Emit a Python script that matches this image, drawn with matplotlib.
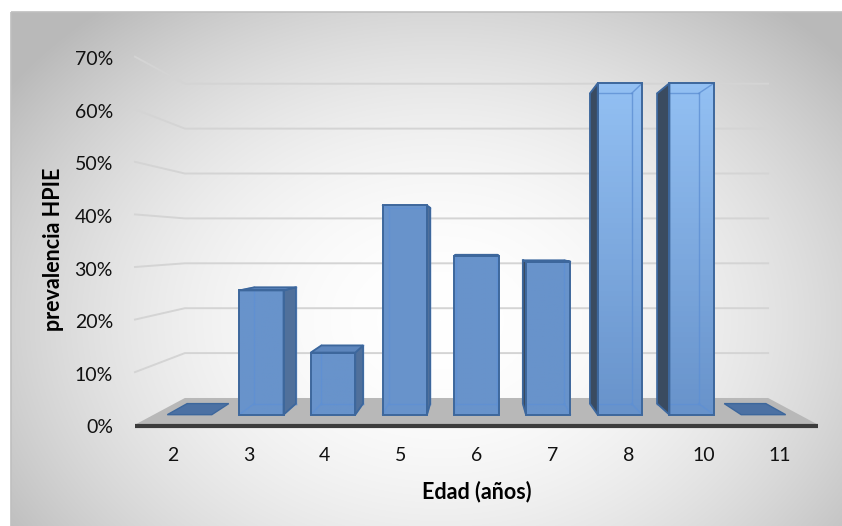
import numpy as np
import matplotlib
matplotlib.use("Agg")
import matplotlib.pyplot as plt
from matplotlib.patches import Polygon, Rectangle

plt.rcParams['font.family'] = ['Lato', 'DejaVu Sans']

# Data
ages = ["2", "3", "4", "5", "6", "7", "8", "10", "11"]
prevalence = [0, 25, 12.5, 42.1, 32, 30.8, 66.7, 66.7, 0]
y_ticks = [0, 10, 20, 30, 40, 50, 60, 70]

# simple one-point perspective to fake the Excel 3D look
VX, VY = 4.0, 34.8
SHRINK = 0.146
T_FRONT, T_BACK = 0.375, 0.79
HALF_W = 0.31


def proj(x, y, t):
    s = 1 - SHRINK * t
    return (VX + s * (x - VX), VY + s * (y - VY))


fig = plt.figure(figsize=(8.42, 5.26), dpi=100)

# background with radial gradient
bg = fig.add_axes([0, 0, 1, 1])
yy, xx = np.mgrid[0:526, 0:842]
r2 = ((xx - 440) / 430.0) ** 2 + ((yy - 320) / 330.0) ** 2
g = np.clip(255 - 46 * r2, 185, 255) / 255.0
g[(xx < 11) | (yy < 12)] = 1.0
bg.imshow(np.dstack([g, g, g]), extent=(0, 842, 526, 0), aspect="auto")
bg.add_patch(Rectangle((11, 11.5), 840, 520, fill=False, ec="#bfbfbf", lw=1.2))
bg.set_xlim(0, 842)
bg.set_ylim(526, 0)
bg.axis("off")

ax = fig.add_axes([135 / 842, (526 - 424.7) / 526, 683 / 842, 368 / 526])
ax.set_xlim(-0.5, 8.5)
ax.set_ylim(0, 70)
ax.axis("off")

n = len(ages)
x_lo, x_hi = -0.5, n - 0.5

# walls: gridlines on left side wall and back wall
for v in y_ticks[1:]:
    p0 = proj(x_lo, v, 0)
    p1 = proj(x_lo, v, 1)
    p2 = proj(x_hi, v, 1)
    ax.plot([p0[0], p1[0], p2[0]], [p0[1], p1[1], p2[1]],
            color="#d4d4d4", lw=1.4, clip_on=False, zorder=1)

# floor
floor = [proj(x_lo, 0, 0), proj(x_hi, 0, 0), proj(x_hi, 0, 1), proj(x_lo, 0, 1)]
ax.add_patch(Polygon(floor, closed=True, fc="#b8b8b8", ec="none",
                     clip_on=False, zorder=2))
ax.plot([x_lo, x_hi], [-0.25, -0.25], color="#3c3c3c", lw=3,
        solid_capstyle="butt", clip_on=False, zorder=2)

EDGE = "#3d679c"
INNER = "#5e90d4"
BASE = np.array([0x68, 0x93, 0xcb]) / 255.0
LIGHT = np.array([0x93, 0xc0, 0xf3]) / 255.0

for i, v in enumerate(prevalence):
    xl, xr = i - HALF_W, i + HALF_W
    if v == 0:
        top = [proj(xl, 0, T_FRONT), proj(xr, 0, T_FRONT),
               proj(xr, 0, T_BACK), proj(xl, 0, T_BACK)]
        ax.add_patch(Polygon(top, closed=True, fc="#4c71a3", ec=EDGE, lw=1,
                             clip_on=False, zorder=3))
        continue

    ff = [proj(xl, 0, T_FRONT), proj(xr, 0, T_FRONT),
          proj(xr, v, T_FRONT), proj(xl, v, T_FRONT)]
    bk = [proj(xl, 0, T_BACK), proj(xr, 0, T_BACK),
          proj(xr, v, T_BACK), proj(xl, v, T_BACK)]

    # hidden edges seen through the glass-like bars
    for a, b in [(bk[0], bk[1]), (bk[1], bk[2]), (bk[2], bk[3]), (bk[3], bk[0]),
                 (ff[0], bk[0]), (ff[1], bk[1]), (ff[2], bk[2]), (ff[3], bk[3])]:
        ax.plot([a[0], b[0]], [a[1], b[1]], color=INNER, lw=1, alpha=0.8,
                clip_on=False, zorder=4.5)

    # side face
    if i < VX:
        side = [ff[1], bk[1], bk[2], ff[2]]
        side_col = "#50709b"
    elif i > VX:
        side = [ff[0], bk[0], bk[3], ff[3]]
        side_col = "#3a4b60"
    else:
        side = None
    if side is not None:
        ax.add_patch(Polygon(side, closed=True, fc=side_col, ec=EDGE, lw=1.3,
                             clip_on=False, zorder=4.7))
    # top face
    if v < VY:
        top = [ff[3], ff[2], bk[2], bk[3]]
        ax.add_patch(Polygon(top, closed=True, fc="#5d86bd", ec=EDGE, lw=1.3,
                             clip_on=False, zorder=4.7))

    # front face with a vertical gradient
    front = Polygon(ff, closed=True, fc="none", ec=EDGE, lw=1.4,
                    clip_on=False, zorder=5)
    ax.add_patch(front)
    frac = np.clip((v - 45) / 20.0, 0, 1)
    top_col = BASE + (LIGHT - BASE) * frac
    ramp = np.linspace(0, 1, 64)[:, None]
    img = BASE + (top_col - BASE) * ramp[..., None]
    im = ax.imshow(img, extent=(ff[0][0], ff[1][0], ff[0][1], ff[2][1]),
                   origin="lower", aspect="auto", zorder=4, clip_on=True)
    im.set_clip_path(front)

ax.set_xlim(-0.5, 8.5)
ax.set_ylim(0, 70)

# tick labels
for v in y_ticks:
    ax.text(-0.79, v - 0.6, "{}%".format(v), ha="right", va="center",
            fontsize=14, color="#111111", clip_on=False)
for i, lab in enumerate(ages):
    ax.text(i, -5.9, lab, ha="center", va="center", fontsize=14,
            color="#111111", clip_on=False)

fig.text(54 / 842, 1 - 249 / 526, "prevalencia HPIE", rotation=90,
         ha="center", va="center", fontsize=15.5, fontweight="bold")
fig.text(476.5 / 842, 1 - 492 / 526, "Edad (años)", ha="center",
         va="center", fontsize=15.5, fontweight="bold")

fig.savefig("out.png", dpi=100)
